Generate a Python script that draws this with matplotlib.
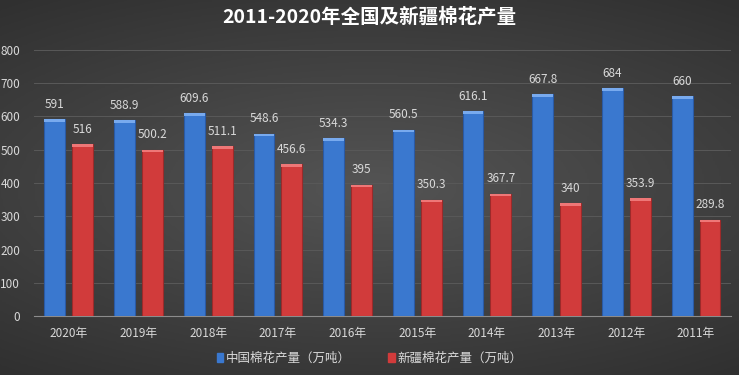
import numpy as np
import matplotlib.pyplot as plt
from matplotlib.colors import LinearSegmentedColormap

plt.rcParams['font.family'] = ['Noto Sans CJK SC', 'DejaVu Sans']

years = ['2020年', '2019年', '2018年', '2017年', '2016年', '2015年', '2014年', '2013年', '2012年', '2011年']
china = [591, 588.9, 609.6, 548.6, 534.3, 560.5, 616.1, 667.8, 684, 660]
xinjiang = [516, 500.2, 511.1, 456.6, 395, 350.3, 367.7, 340, 353.9, 289.8]
labels_cn = ['591', '588.9', '609.6', '548.6', '534.3', '560.5', '616.1', '667.8', '684', '660']
labels_xj = ['516', '500.2', '511.1', '456.6', '395', '350.3', '367.7', '340', '353.9', '289.8']

fig = plt.figure(figsize=(7.39, 3.75), dpi=100)

# background gradient
bg = fig.add_axes([0, 0, 1, 1], zorder=-10)
yy, xx = np.mgrid[-1:1:200j, -1:1:400j]
r = np.sqrt(xx**2 * 0.6 + yy**2)
cmap = LinearSegmentedColormap.from_list('bg', ['#545454', '#303030'])
bg.imshow(r, cmap=cmap, aspect='auto', extent=[0, 1, 0, 1])
bg.axis('off')

ax = fig.add_axes([0.046, 0.157, 0.943, 0.710])
ax.set_facecolor('none')
x = np.arange(len(years))
w = 0.3
ax.bar(x - 0.2, china, width=w, color='#3a78cf', edgecolor='#2a5aa5', lw=0.8, zorder=3)
ax.bar(x + 0.2, xinjiang, width=w, color='#d13b3b', edgecolor='#9c2a2a', lw=0.8, zorder=3)
# bevel highlight on top
ax.bar(x - 0.2, [8] * len(x), bottom=np.array(china) - 8, width=w, color='#78aaee', lw=0, zorder=4)
ax.bar(x + 0.2, [8] * len(x), bottom=np.array(xinjiang) - 8, width=w, color='#ee7777', lw=0, zorder=4)

for i in range(len(x)):
    ax.annotate(labels_cn[i], (x[i] - 0.2, china[i]), xytext=(0, 6), textcoords='offset points',
                ha='center', va='bottom', color='#d9d9d9', fontsize=8.5)
    ax.annotate(labels_xj[i], (x[i] + 0.2, xinjiang[i]), xytext=(0, 6), textcoords='offset points',
                ha='center', va='bottom', color='#d9d9d9', fontsize=8.5)

ax.set_xlim(-0.5, len(x) - 0.5)
ax.set_ylim(0, 800)
ax.set_yticks(range(0, 801, 100))
ax.set_xticks(x)
ax.set_xticklabels(years)
ax.tick_params(colors='#d9d9d9', labelsize=8.5, length=0)
ax.tick_params(axis='x', pad=8)
ax.tick_params(axis='y', pad=10)
ax.grid(axis='y', color='#595959', lw=0.7, zorder=0)
for s in ['top', 'right', 'left']:
    ax.spines[s].set_visible(False)
ax.spines['bottom'].set_color('#8c8c8c')

fig.text(0.5, 0.955, '2011-2020年全国及新疆棉花产量', ha='center', va='center',
         color='white', fontsize=14, fontweight='bold')

h1 = plt.Rectangle((0, 0), 1, 1, color='#3a78cf')
h2 = plt.Rectangle((0, 0), 1, 1, color='#d13b3b')
fig.legend([h1, h2], ['中国棉花产量（万吨）', '新疆棉花产量（万吨）'], loc='center',
           bbox_to_anchor=(0.5, 0.045), ncol=2, frameon=False, fontsize=9,
           labelcolor='#d9d9d9', handlelength=0.5, handleheight=0.8, handletextpad=0.2,
           columnspacing=3)

fig.savefig('out.png', dpi=100)
